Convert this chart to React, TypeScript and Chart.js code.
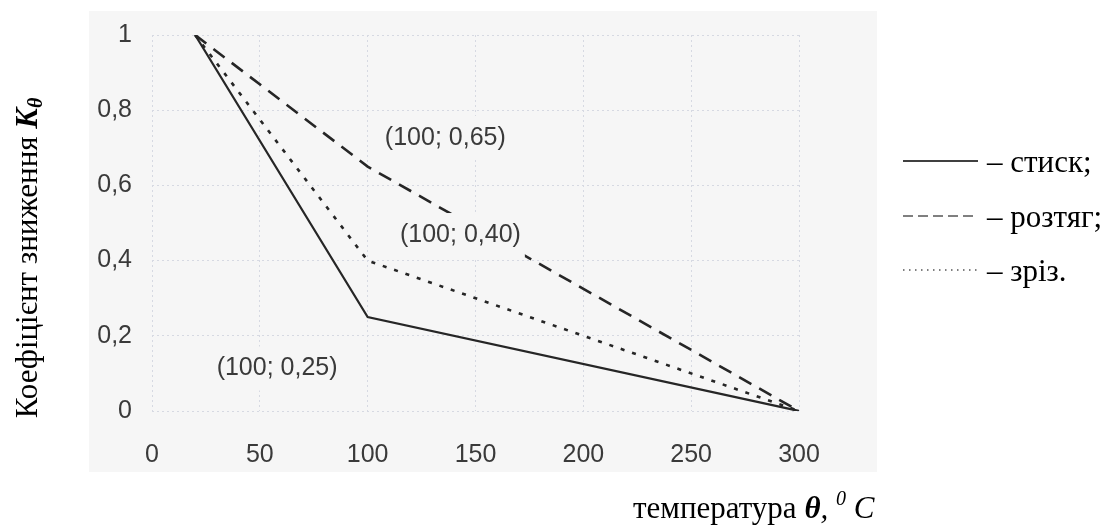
import React, { useEffect, useRef } from "react";
import { Chart, registerables } from "chart.js";

Chart.register(...registerables);

// ---- data ----
const temperatures = [20, 100, 300];
const compression = [1, 0.25, 0];
const tension = [1, 0.65, 0];
const shear = [1, 0.4, 0];
const seriesNames = ["стиск;", "розтяг;", "зріз."];
const xTickValues = [0, 50, 100, 150, 200, 250, 300];
const yTickValues = [0, 0.2, 0.4, 0.6, 0.8, 1];
const pointLabels = ["(100; 0,65)", "(100; 0,40)", "(100; 0,25)"];
const pointLabelX = [136, 143, 58];
const pointLabelY = [0.726, 0.468, 0.113];

const INK = "#262626";
const TICK_INK = "#3a3a3a";
const PLOT_BG = "#f6f6f6";
const SANS = "'Liberation Sans', Arial, sans-serif";
const SERIF = "'Liberation Serif', 'Times New Roman', serif";
const SERIF_SIZE = 31;

type Run = { text: string; font: string; dy?: number };

function drawRuns(ctx: CanvasRenderingContext2D, runs: Run[], x: number, y: number, align: "left" | "center") {
  let total = 0;
  for (const r of runs) {
    ctx.font = r.font;
    total += ctx.measureText(r.text).width;
  }
  let cx = align === "center" ? x - total / 2 : x;
  ctx.textAlign = "left";
  for (const r of runs) {
    ctx.font = r.font;
    ctx.fillText(r.text, cx, y + (r.dy || 0));
    cx += ctx.measureText(r.text).width;
  }
}

const backgroundPlugin = {
  id: "scanBackground",
  beforeDraw(chart: any) {
    const ctx = chart.ctx;
    ctx.save();
    ctx.fillStyle = "#ffffff";
    ctx.fillRect(0, 0, chart.width, chart.height);
    ctx.fillStyle = PLOT_BG;
    ctx.fillRect(89, 11, 788, 461);
    ctx.restore();
  },
};

const overlayPlugin = {
  id: "overlayText",
  afterDatasetsDraw(chart: any) {
    const ctx: CanvasRenderingContext2D = chart.ctx;
    const xs = chart.scales.x;
    const ys = chart.scales.y;
    ctx.save();
    // point annotations
    ctx.font = `25px ${SANS}`;
    ctx.textBaseline = "middle";
    ctx.textAlign = "center";
    pointLabels.forEach((t, i) => {
      const px = xs.getPixelForValue(pointLabelX[i]);
      const py = ys.getPixelForValue(pointLabelY[i]);
      const w = ctx.measureText(t).width;
      ctx.fillStyle = PLOT_BG;
      ctx.fillRect(px - w / 2 - 4, py - 22, w + 8, 44);
      ctx.fillStyle = TICK_INK;
      ctx.fillText(t, px, py);
    });

    // legend
    ctx.textBaseline = "alphabetic";
    const legendDash = [[], [10, 5], [1.5, 4.5]];
    const legendWidth = [1.3, 1, 1.2];
    const legendY = [161, 216, 270];
    chart.data.datasets.forEach((ds: any, i: number) => {
      const y = legendY[i];
      ctx.beginPath();
      ctx.strokeStyle = "#000";
      ctx.lineWidth = legendWidth[i];
      ctx.setLineDash(legendDash[i]);
      ctx.moveTo(903, y);
      ctx.lineTo(978, y);
      ctx.stroke();
      ctx.setLineDash([]);
      ctx.fillStyle = "#000";
      ctx.font = `${SERIF_SIZE}px ${SERIF}`;
      ctx.textAlign = "left";
      ctx.fillText("– " + ds.label, 987, y + 11);
    });

    // x title
    ctx.fillStyle = "#000";
    drawRuns(
      ctx,
      [
        { text: "температура ", font: `${SERIF_SIZE}px ${SERIF}` },
        { text: "θ", font: `italic bold ${SERIF_SIZE}px ${SERIF}` },
        { text: ", ", font: `italic ${SERIF_SIZE}px ${SERIF}` },
        { text: "0", font: `italic 20px ${SERIF}`, dy: -13 },
        { text: " C", font: `italic ${SERIF_SIZE}px ${SERIF}` },
      ],
      633,
      518,
      "left"
    );

    // y title (rotated)
    ctx.save();
    ctx.translate(37, 258);
    ctx.rotate(-Math.PI / 2);
    drawRuns(
      ctx,
      [
        { text: "Коефіцієнт зниження ", font: `${SERIF_SIZE}px ${SERIF}` },
        { text: "K", font: `italic bold ${SERIF_SIZE}px ${SERIF}` },
        { text: "θ", font: `italic bold 20px ${SERIF}`, dy: 5 },
      ],
      0,
      0,
      "center"
    );
    ctx.restore();
    ctx.restore();
  },
};

function fmt(v: number) {
  const r = Math.round(v * 10) / 10;
  return String(r).replace(".", ",");
}

export default function App() {
  const ref = useRef<HTMLCanvasElement | null>(null);

  useEffect(() => {
    if (!ref.current) return;
    const toPts = (vals: number[]) => temperatures.map((t, i) => ({ x: t, y: vals[i] }));
    const chart = new Chart(ref.current, {
      type: "line",
      data: {
        datasets: [
          {
            label: seriesNames[0],
            data: toPts(compression),
            borderColor: INK,
            borderWidth: 2.2,
            pointRadius: 0,
            tension: 0,
          },
          {
            label: seriesNames[1],
            data: toPts(tension),
            borderColor: INK,
            borderWidth: 2.6,
            borderDash: [14, 9],
            pointRadius: 0,
            tension: 0,
          },
          {
            label: seriesNames[2],
            data: toPts(shear),
            borderColor: INK,
            borderWidth: 2.6,
            borderDash: [4, 8],
            pointRadius: 0,
            tension: 0,
          },
        ],
      },
      options: {
        responsive: false,
        animation: false,
        events: [],
        layout: { padding: { left: 0, top: 31, right: 311, bottom: 0 } },
        plugins: {
          legend: { display: false },
          tooltip: { enabled: false },
          title: { display: false },
        },
        scales: {
          x: {
            type: "linear",
            min: 0,
            max: 300,
            afterFit: (s: any) => {
              s.height = 118;
            },
            afterBuildTicks: (s: any) => {
              s.ticks = xTickValues.map((v) => ({ value: v }));
            },
            ticks: {
              font: { family: SANS, size: 25 },
              color: TICK_INK,
              padding: 29,
              maxRotation: 0,
              autoSkip: false,
            },
            grid: { color: "#d6d9e2", lineWidth: 1, drawTicks: false },
            border: { display: false, dash: [2, 3] },
          },
          y: {
            type: "linear",
            min: 0,
            max: 1,
            afterFit: (s: any) => {
              s.width = 152;
            },
            afterBuildTicks: (s: any) => {
              s.ticks = yTickValues.map((v) => ({ value: v }));
            },
            ticks: {
              font: { family: SANS, size: 25 },
              color: TICK_INK,
              padding: 20,
              autoSkip: false,
              callback: (v: any) => fmt(Number(v)),
            },
            grid: { color: "#d6d9e2", lineWidth: 1, drawTicks: false },
            border: { display: false, dash: [2, 3] },
          },
        },
      },
      plugins: [backgroundPlugin, overlayPlugin],
    });
    return () => chart.destroy();
  }, []);

  return (
    <div style={{ position: "absolute", left: 0, top: 0, width: 1110, height: 529 }}>
      <canvas ref={ref} width={1110} height={529} style={{ display: "block" }} />
    </div>
  );
}
